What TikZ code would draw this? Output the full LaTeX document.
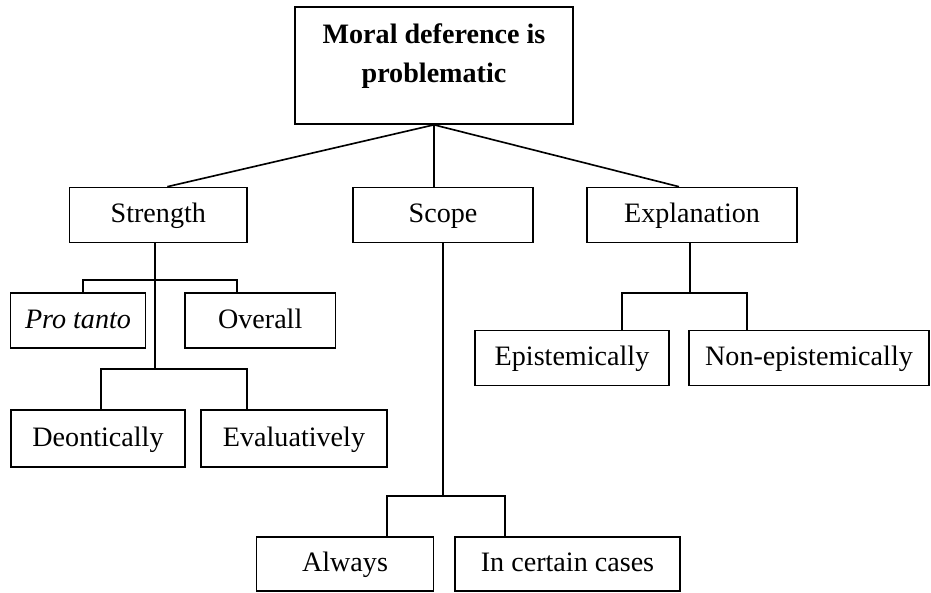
\documentclass[tikz,border=0pt]{standalone}
\usepackage{fontspec}
\setmainfont{Liberation Serif}
\usetikzlibrary{calc}
\newdimen\pxu
\pxu=0.015cm
\tikzset{
    box/.style  = {draw, line width=0.7pt, inner sep=0pt, minimum height=55\pxu,
                   text height=8.6pt, text depth=1.8pt, font=\fontsize{12}{14}\selectfont},
    link/.style = {line width=0.7pt},
}

\begin{document}
\begin{tikzpicture}[x=\pxu, y=-\pxu]
        \useasboundingbox (0,0) rectangle (931,592);
            \node[box, minimum width=278\pxu, minimum height=0pt, align=center,
                  text height=75\pxu, text depth=42\pxu,
                  font=\fontsize{12}{16.4}\selectfont\bfseries]      (moral)         at (434.0, 65.5) {Moral deference is\\problematic};
            \node[box, minimum width=177.5\pxu]                      (strength)      at (158.3,215.0) {Strength};
            \node[box, minimum width=180\pxu]                        (scope)         at (443.0,215.0) {Scope};
            \node[box, minimum width=210\pxu]                        (explanation)   at (692.0,215.0) {Explanation};
            \node[box, minimum width=135\pxu]                        (protanto)      at ( 78.0,320.5) {\textit{Pro tanto}};
            \node[box, minimum width=150.5\pxu]                      (overall)       at (260.2,320.5) {Overall};
            \node[box, minimum width=174\pxu, minimum height=57\pxu] (deontically)   at ( 98.0,438.5) {Deontically};
            \node[box, minimum width=186\pxu, minimum height=57\pxu] (evaluatively)  at (294.0,438.5) {Evaluatively};
            \node[box, minimum width=194\pxu]                        (epistemically) at (572.0,358.0) {Epistemically};
            \node[box, minimum width=240\pxu]                        (nonepist)      at (809.0,358.0) {Non-epistemically};
            \node[box, minimum width=177\pxu, minimum height=54\pxu] (always)        at (345.0,564.0) {Always};
            \node[box, minimum width=225\pxu, minimum height=54\pxu] (certain)       at (567.5,564.0) {In certain cases};

            \coordinate (strtrunk) at (155.0,369.0);
            \coordinate (protop)   at ( 83.0,280.0);
            \coordinate (ovtop)    at (237.0,280.0);
            \coordinate (deotop)   at (101.0,369.0);
            \coordinate (evatop)   at (247.0,369.0);
            \coordinate (scotrunk) at (443.0,496.0);
            \coordinate (alwtop)   at (387.0,496.0);
            \coordinate (certop)   at (505.0,496.0);
            \coordinate (exptrunk) at (690.0,293.0);
            \coordinate (epitop)   at (622.0,293.0);
            \coordinate (nontop)   at (747.0,293.0);

            \draw[link] (moral.south) -- ($(strength.north)+(9,0)$);
            \draw[link] (moral.south) -- (moral.south |- scope.north);
            \draw[link] (moral.south) -- ($(explanation.north)+(-13,0)$);
            \draw[link] (strength.south -| strtrunk)    -- (strtrunk);
            \draw[link] (protanto.north -| protop)      |- (ovtop)  -- (overall.north -| ovtop);
            \draw[link] (deontically.north -| deotop)   |- (evatop) -- (evaluatively.north -| evatop);
            \draw[link] (scope.south)                   -- (scotrunk);
            \draw[link] (always.north -| alwtop)        |- (certop) -- (certain.north -| certop);
            \draw[link] (explanation.south -| exptrunk) -- (exptrunk);
            \draw[link] (epistemically.north -| epitop) |- (nontop) -- (nonepist.north -| nontop);
        \end{tikzpicture}
\end{document}
